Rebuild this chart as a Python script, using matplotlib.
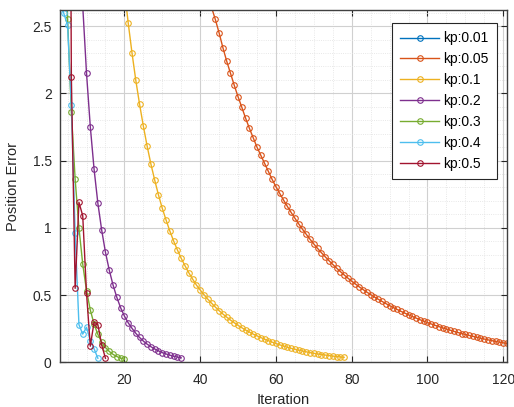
import matplotlib
matplotlib.use("Agg")
import matplotlib.pyplot as plt
from matplotlib.ticker import MultipleLocator

plt.rcParams['font.family'] = ['Liberation Sans', 'DejaVu Sans']

labels = ["kp:0.01", "kp:0.05", "kp:0.1", "kp:0.2", "kp:0.3", "kp:0.4", "kp:0.5"]
colors = ["#0072BD", "#D95319", "#EDB120", "#7E2F8E", "#77AC30", "#4DBEEE", "#A2142F"]

# kp:0.01 stays above the visible range
it_001 = [3, 4, 5, 6, 7, 8, 9, 10]
err_001 = [40.0, 39.6, 39.2, 38.8, 38.4, 38.0, 37.6, 37.2]

it_005 = list(range(40, 122))
err_005 = [2.95, 2.84, 2.74, 2.64, 2.55, 2.45, 2.34, 2.24, 2.15, 2.06,
           1.975, 1.896, 1.815, 1.74, 1.67, 1.60, 1.54, 1.48, 1.42, 1.36,
           1.306, 1.256, 1.207, 1.160, 1.115, 1.072, 1.030, 0.990, 0.952, 0.915,
           0.880, 0.847, 0.815, 0.785, 0.756, 0.728, 0.701, 0.675, 0.650, 0.626,
           0.603, 0.582, 0.561, 0.541, 0.522, 0.504, 0.486, 0.469, 0.453, 0.437,
           0.422, 0.407, 0.393, 0.379, 0.366, 0.353, 0.341, 0.329, 0.317, 0.306,
           0.296, 0.285, 0.275, 0.266, 0.256, 0.247, 0.239, 0.230, 0.222, 0.214,
           0.207, 0.200, 0.193, 0.186, 0.179, 0.173, 0.167, 0.161, 0.155, 0.150,
           0.145, 0.140]

it_01 = list(range(20, 79))
err_01 = [2.77, 2.525, 2.302, 2.099, 1.920, 1.757, 1.608, 1.474, 1.355, 1.244,
          1.145, 1.058, 0.976, 0.902, 0.835, 0.773, 0.718, 0.666, 0.619, 0.575,
          0.538, 0.503, 0.470, 0.440, 0.411, 0.384, 0.359, 0.336, 0.314, 0.294,
          0.275, 0.257, 0.240, 0.225, 0.210, 0.197, 0.184, 0.172, 0.161, 0.150,
          0.140, 0.130, 0.121, 0.112, 0.104, 0.097, 0.090, 0.084, 0.078, 0.072,
          0.067, 0.062, 0.058, 0.054, 0.050, 0.046, 0.043, 0.040, 0.037]

it_02 = list(range(8, 36))
err_02 = [3.30, 2.65, 2.149, 1.752, 1.435, 1.182, 0.984, 0.818, 0.686, 0.575,
          0.483, 0.406, 0.344, 0.294, 0.253, 0.216, 0.185, 0.158, 0.135, 0.116,
          0.099, 0.085, 0.072, 0.062, 0.053, 0.045, 0.039, 0.033]

it_03 = list(range(4, 21))
err_03 = [3.50, 2.55, 1.86, 1.36, 1.00, 0.73, 0.533, 0.389, 0.284, 0.207,
          0.151, 0.110, 0.081, 0.059, 0.043, 0.031, 0.023]

it_04 = list(range(3, 14))
err_04 = [2.70, 2.595, 2.508, 1.91, 0.96, 0.28, 0.21, 0.26, 0.16, 0.10, 0.03]

it_05 = list(range(5, 16))
err_05 = [8.0, 2.12, 0.55, 1.19, 1.09, 0.515, 0.12, 0.30, 0.28, 0.13, 0.03]

series = [(it_001, err_001), (it_005, err_005), (it_01, err_01), (it_02, err_02),
          (it_03, err_03), (it_04, err_04), (it_05, err_05)]

fig = plt.figure(figsize=(5.14, 4.07), dpi=100)
ax = fig.add_axes([60/514, 1-362.3/407, 447/514, 352.3/407])

for (x, y), c, lab in zip(series, colors, labels):
    ax.plot(x, y, '-o', color=c, lw=1.0, markersize=4, markerfacecolor='none',
            markeredgewidth=0.8, label=lab)

ax.set_xlim(3, 121)
ax.set_ylim(0, 2.62)
ax.xaxis.set_major_locator(MultipleLocator(20))
ax.xaxis.set_minor_locator(MultipleLocator(5))
ax.yaxis.set_minor_locator(MultipleLocator(0.1))
ax.set_yticks([0, 0.5, 1, 1.5, 2, 2.5])
ax.set_yticklabels(["0", "0.5", "1", "1.5", "2", "2.5"])
ax.grid(which='major', color='#d0d0d0', lw=0.8)
ax.grid(which='minor', color='#e0e0e0', lw=0.6, ls=':')
ax.set_axisbelow(True)
ax.tick_params(which='both', direction='in', top=True, right=True, labelsize=10,
               color='#262626', labelcolor='#262626')
ax.tick_params(which='minor', length=0)
ax.tick_params(which='major', length=4)
ax.tick_params(axis='x', which='major', pad=8)
ax.tick_params(axis='y', which='major', pad=6)
for s in ax.spines.values():
    s.set_color('#404040')
    s.set_linewidth(1.0)

ax.set_xlabel("Iteration", fontsize=10.5, color='#262626', labelpad=4)
ax.set_ylabel("Position Error", fontsize=10.5, color='#262626', labelpad=9)
ax.yaxis.set_label_coords(-0.09, 0.5)

leg = ax.legend(loc='upper right', bbox_to_anchor=(0.978, 0.963), borderaxespad=0,
                fontsize=10, frameon=True, fancybox=False, edgecolor='#262626',
                handlelength=2.8, labelspacing=0.5, handletextpad=0.3,
                borderpad=0.6, framealpha=1)
leg.get_frame().set_linewidth(0.8)

fig.savefig("out.png", dpi=100)
